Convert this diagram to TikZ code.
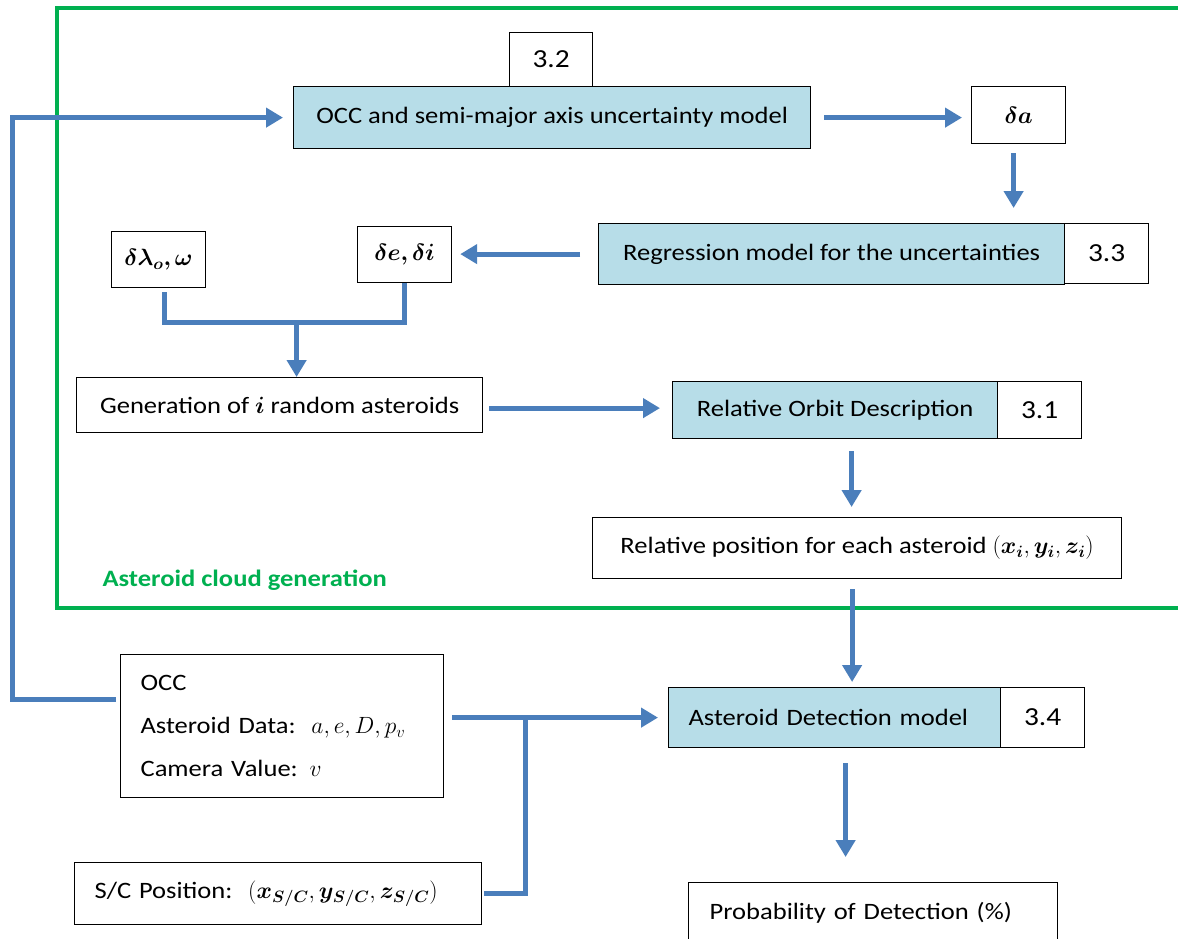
\documentclass[tikz,border=0pt]{standalone}
\usepackage{fix-cm}
\usepackage{amsmath,bm}
\usepackage{fontspec}
\setmainfont{Carlito}[FakeStretch=1.13]
\usetikzlibrary{arrows.meta,calc}
\definecolor{lb}{RGB}{74,126,187}
\definecolor{fb}{RGB}{183,221,232}
\definecolor{gg}{RGB}{0,176,80}
\tikzset{
  box/.style={draw=black, line width=1.2pt, inner sep=0pt, anchor=north west, align=center},
  fillbox/.style={box, fill=fb},
  numbox/.style={box, font=\fontsize{26}{30}\selectfont},
  conn/.style={draw=lb, line width=5pt},
  arr/.style={conn, -{Triangle[length=17pt,width=19pt]}},
  frame/.style={draw=gg, line width=4pt}
}
\begin{document}
\begin{tikzpicture}[x=1pt, y=-1pt, font=\fontsize{23.5}{28}\selectfont]
\useasboundingbox (0,0) rectangle (1178,938);
% green frame
\draw[frame] (1200,8) -- (57,8) -- (57,608) -- (1200,608);
\node[anchor=base west, text=gg, font=\fontsize{23.5}{28}\selectfont\bfseries] (lbl) at (99,586) {Asteroid cloud generation};

% nodes
\node[numbox, minimum width=83pt, minimum height=54pt] (n32) at (509,32) {3.2};
\node[fillbox, minimum width=517pt, minimum height=62pt] (occm) at (293,86) {OCC and semi-major axis uncertainty model};
\node[box, minimum width=94pt, minimum height=57pt] (da) at (971,86) {$\bm{\delta a}$};
\node[fillbox, minimum width=466pt, minimum height=61pt] (reg) at (598,223) {Regression model for the uncertainties};
\node[numbox, minimum width=84pt, minimum height=60pt] (n33) at (1064,223) {3.3};
\node[box, minimum width=94pt, minimum height=56pt] (de) at (357,226) {$\bm{\delta e,\delta i}$};
\node[box, minimum width=94pt, minimum height=56pt] (dl) at (111,231) {$\bm{\delta\lambda_o,\omega}$};
\node[box, minimum width=406pt, minimum height=55pt] (gen) at (76,377) {Generation of $\bm{i}$ random asteroids};
\node[fillbox, minimum width=325pt, minimum height=57pt] (rod) at (672,381) {Relative Orbit Description};
\node[numbox, minimum width=84pt, minimum height=57pt] (n31) at (997,381) {3.1};
\node[box, minimum width=529pt, minimum height=61pt] (rp) at (592,517) {Relative position for each asteroid $(\bm{x_i},\bm{y_i},\bm{z_i})$};
\node[fillbox, text width=292pt, inner xsep=20pt, align=left, minimum height=60pt] (det) at (668,687) {Asteroid Detection model};
\node[numbox, minimum width=84pt, minimum height=60pt] (n34) at (1000,687) {3.4};
\node[box, text width=283pt, inner xsep=20pt, align=left, minimum height=143pt] (in) at (120,654) {OCC\\[15pt]Asteroid Data:\ \ $a,e,D,p_v$\\[15pt]Camera Value: $v$};
\node[box, text width=367pt, inner xsep=20pt, align=left, minimum height=62pt] (sc) at (74,862) {S/C Position:\ \ $(\bm{x_{S/C}},\bm{y_{S/C}},\bm{z_{S/C}})$};
\node[box, text width=327pt, inner xsep=21pt, inner ysep=0pt, text height=37pt, text depth=60pt, align=left] (prob) at (688,882) {Probability of Detection (\%)};

% connectors
\draw[arr, shorten <=13pt, shorten >=9pt] (occm.east) -- (occm.east -| da.west);
\draw[arr, shorten <=9pt, shorten >=15pt] ([xshift=-5pt]da.south) -- ([xshift=-5pt]da.south |- reg.north);
\draw[arr, shorten <=18pt, shorten >=8pt] (reg.west) -- (reg.west -| de.east);
\coordinate (j) at ($(gen.north)+(17,-55)$);
\draw[conn] ([xshift=6pt,yshift=-4pt]dl.south) |- (j) -| (de.south);
\draw[arr] (j) -- (j |- gen.north);
\draw[arr, shorten <=6pt, shorten >=12pt] ([yshift=-3pt]gen.east) -- ([yshift=-3pt]gen.east -| rod.west);
\draw[arr, shorten <=12pt, shorten >=10pt] ([xshift=16.5pt]rod.south) -- ([xshift=16.5pt]rod.south |- rp.north);
\draw[arr, shorten <=10pt, shorten >=5pt] ([xshift=-5pt]rp.south) -- ([xshift=-5pt]rp.south |- det.north);
\draw[arr, shorten <=15pt, shorten >=25pt] ([xshift=11pt]det.south) -- ([xshift=11pt]det.south |- prob.north);
\draw[arr, shorten <=4pt, shorten >=10pt] ($(in.north west)+(0,45)$) -- ++(-108,0) |- (occm.west);
\draw[arr, shorten <=8pt, shorten >=10pt] (det.west -| in.east) -- (det.west);
\coordinate (k) at ($(det.west -| in.east)+(81,0)$);
\draw[conn] ([xshift=2pt]sc.east) -| (k);
\end{tikzpicture}
\end{document}
